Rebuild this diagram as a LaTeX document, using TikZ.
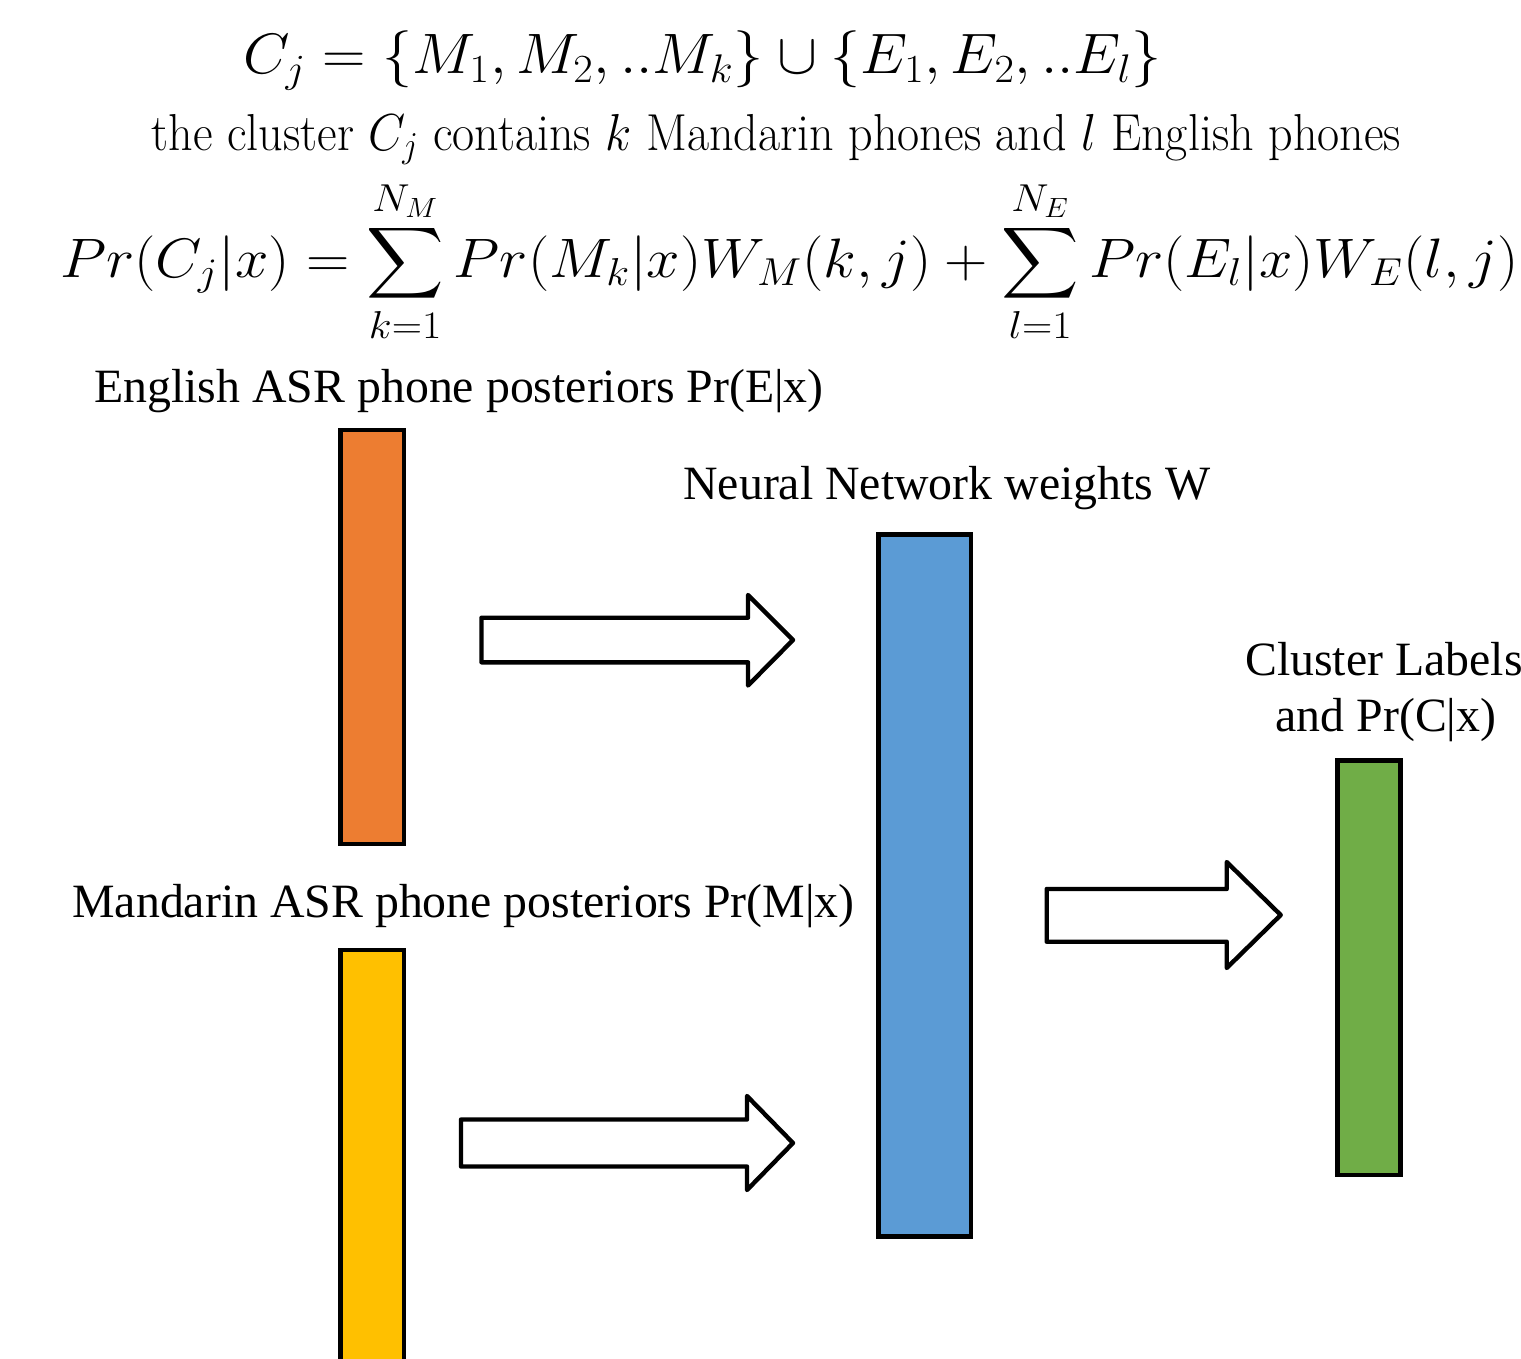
\RequirePackage{fix-cm}
\documentclass[tikz,border=0pt]{standalone}
\usepackage{amsmath}
\usepackage{fontspec}
\newfontfamily\tnr{Liberation Serif}
\definecolor{engc}{HTML}{ED7D31}
\definecolor{nnc}{HTML}{5B9BD5}
\definecolor{clc}{HTML}{70AD47}
\definecolor{manc}{HTML}{FFC000}
\begin{document}
\begin{tikzpicture}[x=0.5pt,y=-0.5pt,
  bar/.style={draw=black,line width=2.2pt,inner sep=0pt},
  blockarr/.style={draw=black,fill=white,line width=2.2pt,line join=round},
  lbl/.style={font=\tnr\fontsize{23.9}{27.5}\selectfont,inner sep=0pt,anchor=base west},
  clbl/.style={font=\tnr\fontsize{23.9}{27.5}\selectfont,inner sep=0pt,anchor=base},
  eqn/.style={inner sep=0pt,anchor=base west}]
\useasboundingbox[fill=white] (0,0) rectangle (1521,1359);

% equations
\node[eqn] (eq1) at (243,74) {\scalebox{1.055}[1]{\fontsize{28.5}{30}\selectfont$C_j = \{M_1, M_2, ..M_k\} \cup \{E_1, E_2, ..E_l\}$}};
\node[eqn] (desc) at (151,150) {\scalebox{0.925}[1]{\fontsize{26}{30}\selectfont the cluster $C_j$ contains $k$ Mandarin phones and $l$ English phones}};
\node[eqn] (eq2) at (60,277) {\scalebox{1.08}[1]{\fontsize{27.8}{30}\selectfont$\displaystyle Pr(C_j|x) = \sum_{k=1}^{N_M} Pr(M_k|x)W_M(k,j) + \sum_{l=1}^{N_E} Pr(E_l|x)W_E(l,j)$}};

% bars
\node[bar,fill=engc,minimum width=31.75pt,minimum height=207pt] (eng) at (372.25,637) {};
\node[bar,fill=manc,minimum width=31.75pt,minimum height=207pt] (man) at (372.25,1157) {};
\node[bar,fill=nnc,minimum width=46.25pt,minimum height=351pt] (nn) at (924.75,885.5) {};
\node[bar,fill=clc,minimum width=31.5pt,minimum height=207.25pt] (cl) at (1369,967.75) {};

% labels
\node[lbl] (englbl) at (94,402.5) {English ASR phone posteriors Pr(E|x)};
\node[lbl] (nnlbl) at (683,499) {Neural Network weights W};
\node[lbl] (manlbl) at (72,917.5) {Mandarin ASR phone posteriors Pr(M|x)};
\node[clbl] (cllbl1) at (1384,675.7) {Cluster Labels};
\node[clbl] (cllbl2) at (1386,731) {and Pr(C|x)};

% block arrows
\draw[blockarr] (481.5,617.7) -- (748,617.7) -- (748,595) -- (793,640) -- (748,685.5) -- (748,662.3) -- (481.5,662.3) -- cycle;
\draw[blockarr] (461,1119.5) -- (747,1119.5) -- (747,1096) -- (793,1143) -- (747,1190) -- (747,1166.5) -- (461,1166.5) -- cycle;
\draw[blockarr] (1046.7,889) -- (1226.7,889) -- (1226.7,862) -- (1280.7,915) -- (1226.7,968) -- (1226.7,941.7) -- (1046.7,941.7) -- cycle;
\end{tikzpicture}
\end{document}
